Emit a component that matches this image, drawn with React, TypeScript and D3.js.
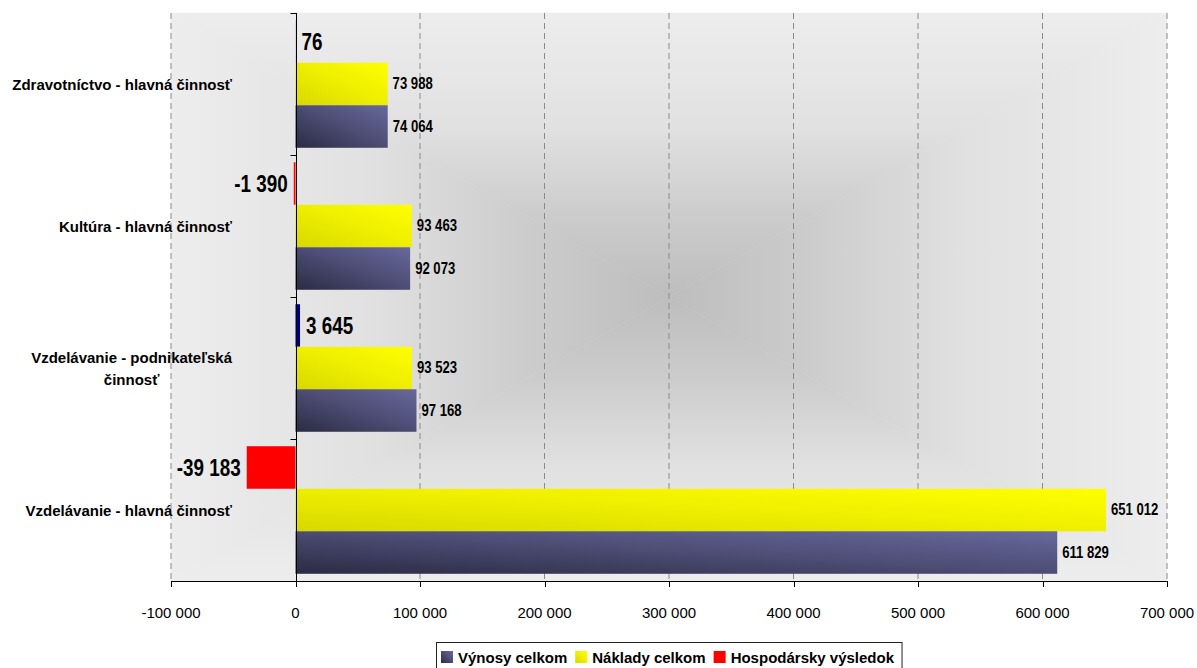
import React, { useEffect, useRef } from "react";
import * as d3 from "d3";

const categories = [
  "Zdravotníctvo - hlavná činnosť",
  "Kultúra - hlavná činnosť",
  "Vzdelávanie - podnikateľská činnosť",
  "Vzdelávanie - hlavná činnosť",
];
const categoryLines = [
  ["Zdravotníctvo - hlavná činnosť"],
  ["Kultúra - hlavná činnosť"],
  ["Vzdelávanie - podnikateľská", "činnosť"],
  ["Vzdelávanie - hlavná činnosť"],
];
const vynosy = [74064, 92073, 97168, 611829];
const naklady = [73988, 93463, 93523, 651012];
const vysledok = [76, -1390, 3645, -39183];
const xTicks = [-100000, 0, 100000, 200000, 300000, 400000, 500000, 600000, 700000];
const seriesNames = ["Výnosy celkom", "Náklady celkom", "Hospodársky výsledok"];

const W = 1197;
const H = 668;
const FONT = "'Liberation Sans', Arial, sans-serif";

export default function App() {
  const ref = useRef<SVGSVGElement>(null);

  useEffect(() => {
    const svg = d3.select(ref.current!);
    svg.selectAll("*").remove();

    const L = 171, R = 1167, T = 13, B = 581;
    const cx = (L + R) / 2, cy = (T + B) / 2;

    const x = d3.scaleLinear().domain([-100000, 700000]).range([L, R]);
    const yBand = d3.scaleBand<string>().domain(categories).range([T, B]).paddingInner(0).paddingOuter(0);
    const inner = d3.scaleBand<string>().domain(["hv", "nak", "vyn"]).range([0, yBand.bandwidth()]).paddingInner(0).paddingOuter(0.17);

    const loc = d3.formatLocale({ decimal: ",", thousands: " ", grouping: [3], currency: ["", ""], minus: "-" } as any);
    const fmt = loc.format(",d");

    const defs = svg.append("defs");
    const bg = [
      { id: "bgL", x1: cx, y1: cy, x2: L, y2: cy },
      { id: "bgR", x1: cx, y1: cy, x2: R, y2: cy },
      { id: "bgT", x1: cx, y1: cy, x2: cx, y2: T },
      { id: "bgB", x1: cx, y1: cy, x2: cx, y2: B },
    ];
    const bgStops = [
      [0, "#bdbdbd"],
      [0.3, "#cdcdcd"],
      [0.6, "#e1e1e1"],
      [1, "#ededed"],
    ];
    bg.forEach((g) => {
      const lg = defs.append("linearGradient").attr("id", g.id).attr("gradientUnits", "userSpaceOnUse")
        .attr("x1", g.x1).attr("y1", g.y1).attr("x2", g.x2).attr("y2", g.y2);
      bgStops.forEach(([o, c]) => lg.append("stop").attr("offset", o as number).attr("stop-color", c as string));
    });
    const mkGrad = (id: string, stops: [number, string][]) => {
      const lg = defs.append("linearGradient").attr("id", id).attr("x1", 0).attr("y1", 1).attr("x2", 1).attr("y2", 0);
      stops.forEach(([o, c]) => lg.append("stop").attr("offset", o).attr("stop-color", c));
    };
    mkGrad("gBlue", [[0, "#2b2b43"], [0.5, "#4c4c74"], [1, "#68689c"]]);
    mkGrad("gYel", [[0, "#d8d800"], [0.5, "#eeee00"], [1, "#ffff00"]]);

    // Background (rectangular "from center" gradient)
    const bgG = svg.append("g");
    const polys = [
      { id: "bgL", pts: [[L, T], [L, B], [cx, cy]] },
      { id: "bgR", pts: [[R, T], [R, B], [cx, cy]] },
      { id: "bgT", pts: [[L, T], [R, T], [cx, cy]] },
      { id: "bgB", pts: [[L, B], [R, B], [cx, cy]] },
    ];
    polys.forEach((p) => {
      bgG.append("polygon").attr("points", p.pts.map((q) => q.join(",")).join(" "))
        .attr("fill", `url(#${p.id})`).attr("stroke", `url(#${p.id})`).attr("stroke-width", 0.6);
    });

    // Gridlines
    svg.append("g").selectAll("line").data(xTicks.filter((t) => t !== 0)).join("line")
      .attr("x1", (d) => x(d)).attr("x2", (d) => x(d)).attr("y1", T).attr("y2", B)
      .attr("stroke", "#8a8a8a").attr("stroke-width", 1).attr("stroke-dasharray", "6,4");

    const x0 = x(0);
    const barG = svg.append("g");
    categories.forEach((c, i) => {
      const by = yBand(c)!;
      // výsledok
      const v = vysledok[i];
      const hy = by + inner("hv")!;
      barG.append("rect").attr("x", Math.min(x(v), x0)).attr("y", hy)
        .attr("width", Math.abs(x(v) - x0)).attr("height", inner.bandwidth())
        .attr("fill", v < 0 ? "#ff0000" : "#000080");
      // náklady
      const ny = by + inner("nak")!;
      barG.append("rect").attr("x", x0).attr("y", ny).attr("width", x(naklady[i]) - x0)
        .attr("height", inner.bandwidth()).attr("fill", "url(#gYel)");
      // výnosy
      const vy = by + inner("vyn")!;
      barG.append("rect").attr("x", x0).attr("y", vy).attr("width", x(vynosy[i]) - x0)
        .attr("height", inner.bandwidth()).attr("fill", "url(#gBlue)");

      const narrow = (tx: number, ty: number, text: string, size: number, anchor: string) => {
        barG.append("text").attr("transform", `translate(${tx},${ty}) scale(0.82,1)`)
          .attr("text-anchor", anchor).attr("dominant-baseline", "central")
          .attr("font-family", FONT).attr("font-weight", "bold").attr("font-size", size)
          .attr("fill", "#000").text(text);
      };
      narrow(x(naklady[i]) + 5, ny + inner.bandwidth() / 2, fmt(naklady[i]), 16, "start");
      narrow(x(vynosy[i]) + 5, vy + inner.bandwidth() / 2, fmt(vynosy[i]), 16, "start");
      if (v >= 0) narrow(x(v) + 6, hy + inner.bandwidth() / 2, fmt(v), 23, "start");
      else narrow(x(v) - 6, hy + inner.bandwidth() / 2, fmt(v), 23, "end");
    });

    // Axes
    const ax = svg.append("g");
    ax.append("line").attr("x1", L).attr("x2", R).attr("y1", B + 0.5).attr("y2", B + 0.5).attr("stroke", "#000");
    xTicks.forEach((t) => {
      ax.append("line").attr("x1", Math.round(x(t)) + 0.5).attr("x2", Math.round(x(t)) + 0.5)
        .attr("y1", B).attr("y2", B + 6).attr("stroke", "#000");
      ax.append("text").attr("x", x(t)).attr("y", 618).attr("text-anchor", "middle")
        .attr("font-family", FONT).attr("font-size", 15).attr("fill", "#000").text(fmt(t));
    });
    const ax0 = Math.round(x0) + 0.5;
    ax.append("line").attr("x1", ax0).attr("x2", ax0).attr("y1", T).attr("y2", B + 1).attr("stroke", "#000");
    const bounds = categories.map((c) => yBand(c)!).concat([B]);
    bounds.forEach((b) => {
      ax.append("line").attr("x1", ax0 - 6).attr("x2", ax0).attr("y1", Math.round(b) + 0.5).attr("y2", Math.round(b) + 0.5)
        .attr("stroke", "#000");
    });

    // Category labels
    const catG = svg.append("g");
    const labelRight = 232;
    categories.forEach((c, i) => {
      const lines = categoryLines[i];
      const mid = yBand(c)! + yBand.bandwidth() / 2;
      const lh = 22;
      const texts = lines.map((ln, j) =>
        catG.append("text").attr("y", mid + (j - (lines.length - 1) / 2) * lh)
          .attr("dominant-baseline", "central").attr("text-anchor", "middle")
          .attr("font-family", FONT).attr("font-weight", "bold").attr("font-size", 15)
          .attr("fill", "#000").text(ln)
      );
      const widths = texts.map((t) => (t.node() as SVGTextElement).getComputedTextLength());
      const maxW = Math.max(...widths);
      texts.forEach((t) => t.attr("x", labelRight - maxW / 2));
    });

    // Legend
    const lg = svg.append("g");
    const legTop = 642;
    const box = lg.append("rect").attr("y", legTop + 0.5).attr("x", 436.5).attr("height", 40)
      .attr("fill", "#fff").attr("stroke", "#222").attr("stroke-width", 1);
    let lx = 441;
    const fills = ["url(#gBlue)", "url(#gYel)", "#ff0000"];
    seriesNames.forEach((s, i) => {
      lg.append("rect").attr("x", lx).attr("y", 651).attr("width", 12).attr("height", 12).attr("fill", fills[i]);
      const t = lg.append("text").attr("x", lx + 17).attr("y", 663).attr("font-family", FONT)
        .attr("font-weight", "bold").attr("font-size", 15).attr("fill", "#000").text(s);
      const w = (t.node() as SVGTextElement).getComputedTextLength();
      lx = lx + 17 + w + 8;
    });
    box.attr("width", lx - 436.5);
  }, []);

  return (
    <svg ref={ref} width={W} height={H} style={{ position: "absolute", left: 0, top: 0, background: "#fff" }} />
  );
}
